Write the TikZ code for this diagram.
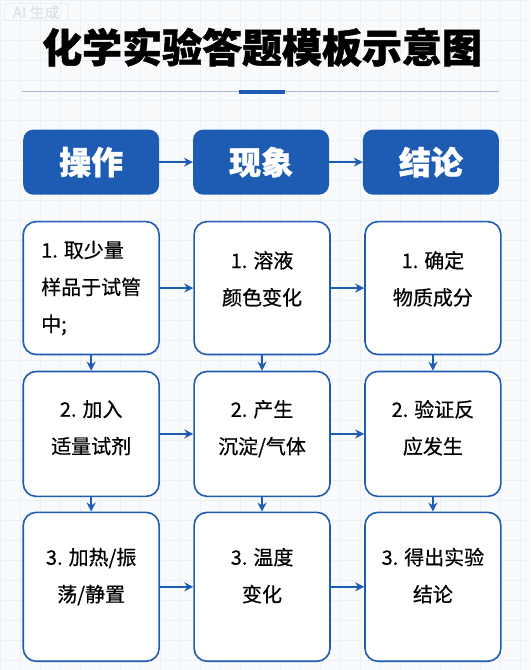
\documentclass[tikz,border=0pt]{standalone}
\usepackage{fontspec}
\newfontfamily\cjk[FakeBold=0.5]{Noto Sans CJK SC}
\newfontfamily\cjkheavy[BoldFeatures={FakeBold=1.2}]{Noto Sans CJK SC}
\usepackage{xcolor}
\definecolor{primary}{HTML}{1E5CB3}
\definecolor{gridline}{HTML}{EDF0F4}
\definecolor{paper}{HTML}{F9FAFB}
\definecolor{rulegray}{HTML}{AAB8D0}
\definecolor{marktext}{HTML}{DDE0E5}
\usepackage{tikz}
\usetikzlibrary{arrows.meta,positioning}

\tikzset{
  headbox/.style={rounded corners=10pt,fill=primary,text=white,minimum width=136pt,minimum height=65pt,
    font=\cjkheavy\bfseries\fontsize{32}{36}\selectfont},
  stepbox/.style={rounded corners=13pt,draw=primary,line width=1.6pt,fill=white,minimum width=136pt,
    align=center,font=\cjk\fontsize{20}{37}\selectfont},
  flow/.style={draw=primary,line width=1.8pt,-{Stealth[length=9pt,width=9pt]}},
}

\begin{document}
\begin{tikzpicture}[x=1pt,y=-1pt]
  % Background
  \fill[paper] (0,0) rectangle (530,670);
  \draw[gridline,line width=0.5pt] (0,0) grid[step=20pt] (530,670);
  \useasboundingbox (0,0) rectangle (530,670);
  \node[draw=marktext,rounded corners=3pt,text=marktext,font=\cjk\fontsize{15}{16}\selectfont,
    minimum width=64pt,minimum height=17pt,inner sep=1pt] (mark) at (36,12) {AI 生成};
  % Title
  \node[font=\cjkheavy\bfseries\fontsize{40}{44}\selectfont] (title) at (262,47) {化学实验答题模板示意图};
  \draw[rulegray,line width=0.8pt] (22,91) -- (499,91);
  \draw[primary,line width=3.5pt] (239,92) -- (285,92);
  % Header row
  \node[headbox] (hOp) at (91,162) {操作};
  \node[headbox] (hPh) at (261,162) {现象};
  \node[headbox] (hCo) at (431,162) {结论};
  \draw[flow] (hOp) -- (hPh);
  \draw[flow] (hPh) -- (hCo);
  % Step 1
  \node[stepbox,minimum height=133pt,align=left] (op1) at (91,288) {1. 取少量\\样品于试管\\中;};
  \node[stepbox,minimum height=133pt,text depth=20pt] (ph1) at (262,288) {1. 溶液\\颜色变化};
  \node[stepbox,minimum height=133pt,text depth=20pt] (co1) at (433,288) {1. 确定\\物质成分};
  % Step 2
  \node[stepbox,minimum height=125pt,text depth=14pt] (op2) at (91,434) {2. 加入\\适量试剂};
  \node[stepbox,minimum height=125pt,text depth=14pt] (ph2) at (262,434) {2. 产生\\沉淀/气体};
  \node[stepbox,minimum height=125pt,text depth=14pt] (co2) at (433,434) {2. 验证反\\应发生};
  % Step 3
  \node[stepbox,minimum height=149pt,text depth=24pt] (op3) at (91,587) {3. 加热/振\\荡/静置};
  \node[stepbox,minimum height=149pt,text depth=24pt] (ph3) at (262,587) {3. 温度\\变化};
  \node[stepbox,minimum height=149pt,text depth=24pt] (co3) at (433,587) {3. 得出实验\\结论};
  % Connectors
  \foreach \r in {1,2,3} {
    \draw[flow] (op\r) -- (ph\r);
    \draw[flow] (ph\r) -- (co\r);
  }
  \foreach \c in {op,ph,co} {
    \draw[flow] (\c1) -- (\c2);
    \draw[flow] (\c2) -- (\c3);
  }
\end{tikzpicture}
\end{document}
